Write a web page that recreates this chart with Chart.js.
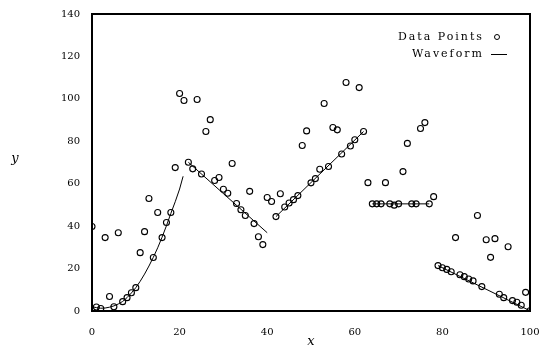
<!DOCTYPE html>
<html><head><meta charset="utf-8">
<script src="https://cdn.jsdelivr.net/npm/chart.js@4/dist/chart.umd.min.js"></script>
<style>html,body{margin:0;padding:0;background:#fff}#wrap{width:542px;height:347px}</style>
</head><body><div id="wrap"><canvas id="c" width="542" height="347"></canvas></div>
<script>
const pointX = [0,1,2,3,4,5,6,7,8,9,10,11,12,13,14,15,16,17,18,19,20,21,22,23,24,25,26,27,28,29,30,31,32,33,34,35,36,37,38,39,40,41,42,43,44,45,46,47,48,49,50,51,52,53,54,55,56,57,58,59,60,61,62,63,64,65,66,67,68,69,70,71,72,73,74,75,76,77,78,79,80,81,82,83,84,85,86,87,88,89,90,91,92,93,94,95,96,97,98,99,100];
const pointY = [39.8,1.9,1.2,34.6,6.8,2.0,36.9,4.4,6.3,8.6,
  11.0,27.5,37.4,53.0,25.2,46.4,34.6,41.7,46.4,67.6,
  102.5,99.2,70.1,67.0,99.7,64.6,84.6,90.2,61.5,62.9,
  57.4,55.5,69.5,50.7,47.7,45.0,56.4,41.2,35.0,31.3,
  53.5,51.6,44.5,55.3,49.0,50.9,52.5,54.4,78.0,84.9,
  60.4,62.4,66.8,97.8,68.1,86.5,85.4,74.0,107.7,77.8,
  80.7,105.3,84.6,60.5,50.5,50.5,50.5,60.5,50.5,49.9,
  50.5,65.7,79.0,50.5,50.5,86.0,88.8,50.5,53.9,21.4,
  20.4,19.6,18.5,34.6,17.1,16.2,15.1,14.2,45.0,11.5,
  33.6,25.3,34.1,7.9,6.3,30.3,4.9,4.1,2.7,8.8,0.1];
const waveX = [0,1,2,3,4,5,6,7,8,9,10,11,12,13,14,15,16,17,18,19,20,20.8,21.4,22,40,41,42,62,63,64,77,78,79,100];
const waveY = [2.0,1.6,1.3,1.4,1.8,2.4,3.3,4.5,6.3,8.5,11,14,17.4,21.2,25.3,29.8,34.8,40.2,46,51.5,57.5,63.5,null,70.1,36.9,null,44.5,84.6,null,50.5,50.5,null,21.4,0.1];
const xTicks = [0,20,40,60,80,100];
const yTicks = [0,20,40,60,80,100,120,140];
const seriesNames = ['Data Points','Waveform'];
const axisNames = ['x','y'];

const SERIF = '"DejaVu Serif", "Liberation Serif", serif';
const canvas = document.getElementById('c');
const ctx0 = canvas.getContext('2d');
ctx0.letterSpacing = '2px';

const framePlugin = {
  id: 'frame',
  afterDraw(chart) {
    const {ctx, chartArea: a} = chart;
    ctx.save();
    ctx.letterSpacing = '0px';
    ctx.strokeStyle = '#000';
    ctx.lineWidth = 2;
    ctx.strokeRect(a.left, a.top, a.right - a.left, a.bottom - a.top);
    ctx.fillStyle = '#000';
    ctx.font = 'italic 13px ' + SERIF;
    ctx.textAlign = 'center';
    ctx.textBaseline = 'middle';
    ctx.fillText(axisNames[0], (a.left + a.right) / 2, 342);
    ctx.fillText(axisNames[1], 15, 159);
    ctx.letterSpacing = '2px';
    ctx.font = '11px ' + SERIF;
    ctx.textAlign = 'right';
    ctx.fillText(seriesNames[0], 484, 37);
    ctx.fillText(seriesNames[1], 484, 54);
    ctx.lineWidth = 1;
    ctx.beginPath();
    ctx.arc(497, 37, 2.5, 0, Math.PI * 2);
    ctx.stroke();
    ctx.beginPath();
    ctx.moveTo(491, 54.5);
    ctx.lineTo(507, 54.5);
    ctx.stroke();
    ctx.restore();
  }
};

new Chart(ctx0, {
  type: 'scatter',
  data: {
    datasets: [
      {
        label: seriesNames[0],
        data: pointX.map((x, i) => ({x: x, y: pointY[i]})),
        showLine: false,
        pointStyle: 'circle',
        pointRadius: 3,
        pointBorderWidth: 1.1,
        pointBorderColor: '#000',
        pointBackgroundColor: 'rgba(0,0,0,0)',
        order: 1
      },
      {
        label: seriesNames[1],
        data: waveX.map((x, i) => ({x: x, y: waveY[i]})),
        showLine: true,
        spanGaps: false,
        borderColor: '#000',
        borderWidth: 1,
        pointRadius: 0,
        tension: 0,
        order: 2
      }
    ]
  },
  options: {
    responsive: false,
    animation: false,
    devicePixelRatio: 1,
    layout: {padding: {left: 0, right: 12, top: 14, bottom: 0}},
    plugins: {legend: {display: false}, tooltip: {enabled: false}},
    scales: {
      x: {
        type: 'linear', min: 0, max: 100,
        afterBuildTicks: s => { s.ticks = xTicks.map(v => ({value: v})); },
        grid: {display: false}, border: {display: false},
        ticks: {color: '#000', font: {family: SERIF, size: 10}, padding: 7, maxRotation: 0},
        afterFit: s => { s.height = 36; s.paddingLeft = 0; s.paddingRight = 0; }
      },
      y: {
        type: 'linear', min: 0, max: 140,
        afterBuildTicks: s => { s.ticks = yTicks.map(v => ({value: v})); },
        grid: {display: false}, border: {display: false},
        ticks: {color: '#000', font: {family: SERIF, size: 10}, padding: 4},
        afterFit: s => { s.width = 92; s.paddingTop = 0; s.paddingBottom = 0; }
      }
    }
  },
  plugins: [framePlugin]
});
</script></body></html>
